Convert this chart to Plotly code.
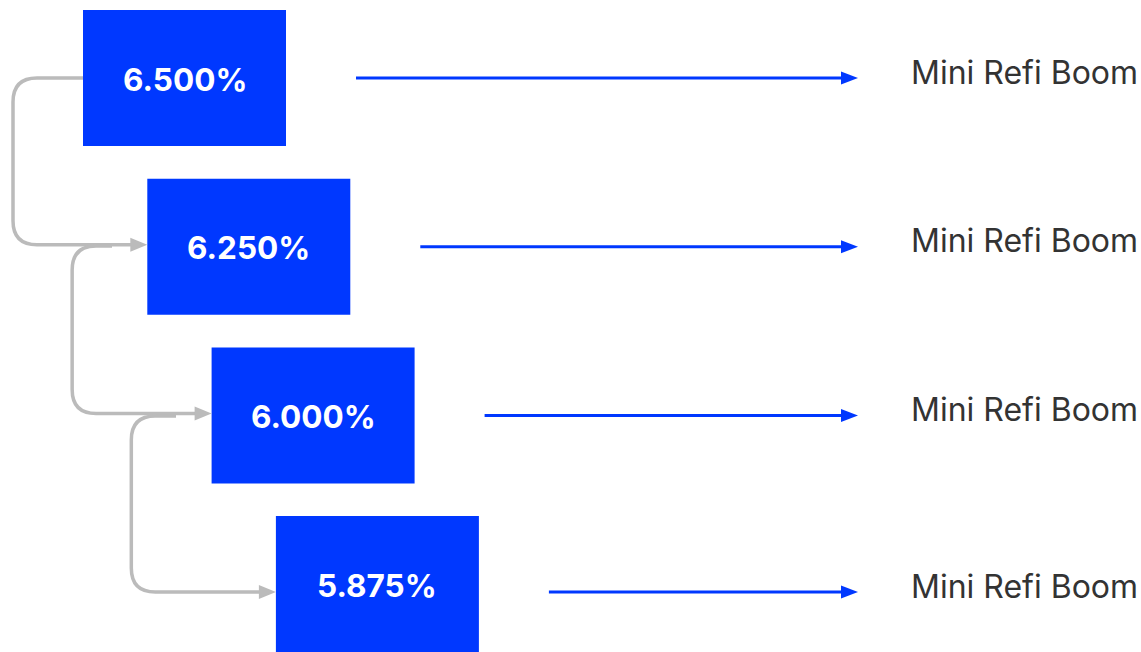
import plotly.graph_objects as go

# ---- data ----
rates = [6.500, 6.250, 6.000, 5.875]
rate_labels = [f"{r:.3f}%" for r in rates]
outcomes = ["Mini Refi Boom", "Mini Refi Boom", "Mini Refi Boom", "Mini Refi Boom"]

# ---- layout constants (pixels) ----
W, H = 1141, 652
BOX_X0, BOX_DX = 83, 64.3
BOX_Y0, BOX_DY = 10, 168.7
BOX_W, BOX_H = 203, 136
ARROW_GAP = 70          # gap between box right edge and blue arrow start
ARROW_END = 858
ARROW_DY = [0, 0, 0, 8]  # vertical offset of row arrows from box centre
LABEL_X = 909
BLUE = "#0038FF"
GREY = "#BBBBBB"
TEXT = "#333333"
R = 24                  # connector corner radius
HEAD_L, HEAD_W = 17, 14

fig = go.Figure()
shapes = []
annotations = []

n = len(rates)
box = []
for i in range(n):
    x0 = BOX_X0 + i * BOX_DX
    y0 = BOX_Y0 + i * BOX_DY
    cy = y0 + BOX_H / 2
    box.append((x0, y0, cy))
    shapes.append(dict(type="rect", x0=x0, x1=x0 + BOX_W, y0=y0, y1=y0 + BOX_H,
                       fillcolor=BLUE, line=dict(width=0), layer="above"))
    annotations.append(dict(x=x0 + BOX_W / 2, y=cy + 1, text=f"<b>{rate_labels[i]}</b>",
                            showarrow=False, xanchor="center", yanchor="middle",
                            font=dict(family="Inter", size=31.5, color="white")))
    # blue arrow
    ay = cy + ARROW_DY[i]
    ax0 = x0 + BOX_W + ARROW_GAP
    shapes.append(dict(type="line", x0=ax0, x1=ARROW_END - HEAD_L + 2, y0=ay, y1=ay,
                       line=dict(color=BLUE, width=3)))
    shapes.append(dict(type="path",
                       path=f"M {ARROW_END - HEAD_L} {ay - 6.5} L {ARROW_END} {ay} L {ARROW_END - HEAD_L} {ay + 6.5} Z",
                       fillcolor=BLUE, line=dict(width=0)))
    annotations.append(dict(x=LABEL_X, y=ay - 6, text=outcomes[i], showarrow=False,
                            xanchor="left", yanchor="middle",
                            font=dict(family="Inter", size=32, color=TEXT)))

# grey connectors from row i to row i+1
conn_top = [box[0][2], 246, 416]
conn_start = [BOX_X0, 112, 176]
for i in range(n - 1):
    vx = 13 + i * BOX_DX * 0.92
    ty = conn_top[i]
    nx0, _, ncy = box[i + 1]
    by = ncy + ARROW_DY[i + 1] - 2 if i < n - 2 else ncy + ARROW_DY[i + 1]
    sx = conn_start[i]
    tip = nx0
    path = (f"M {sx} {ty} L {vx + R} {ty} Q {vx} {ty} {vx} {ty + R} "
            f"L {vx} {by - R} Q {vx} {by} {vx + R} {by} L {tip - HEAD_L + 2} {by}")
    shapes.append(dict(type="path", path=path, line=dict(color=GREY, width=3.5)))
    shapes.append(dict(type="path",
                       path=f"M {tip - HEAD_L} {by - HEAD_W / 2} L {tip} {by} L {tip - HEAD_L} {by + HEAD_W / 2} Z",
                       fillcolor=GREY, line=dict(width=0)))

fig.update_layout(
    width=W, height=H,
    margin=dict(l=0, r=0, t=0, b=0),
    paper_bgcolor="white", plot_bgcolor="white",
    xaxis=dict(range=[0, W], visible=False, fixedrange=True),
    yaxis=dict(range=[H, 0], visible=False, fixedrange=True),
    shapes=shapes, annotations=annotations, showlegend=False,
)
fig.write_html("out.html", config={"displayModeBar": False},
               post_script="document.body.style.margin='0';document.body.style.overflow='hidden';")
